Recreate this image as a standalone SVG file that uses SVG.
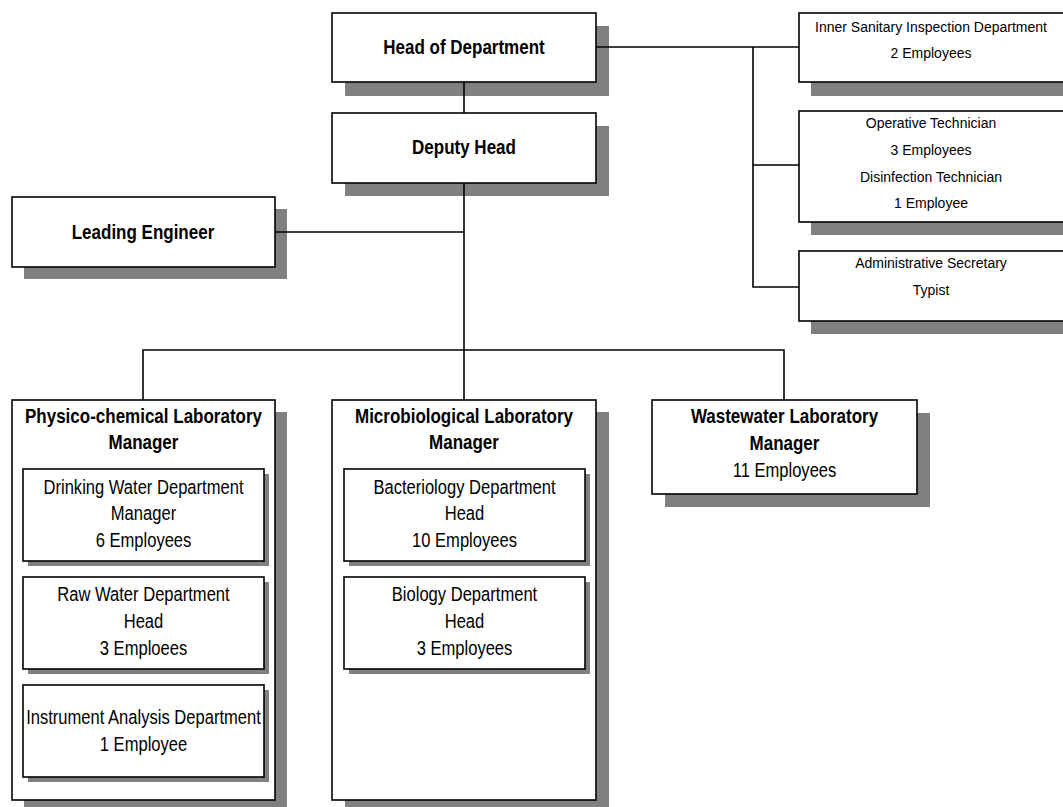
<svg xmlns="http://www.w3.org/2000/svg" width="1063" height="807" viewBox="0 0 1063 807">
<style>
.sh{fill:#808080;stroke:none}
.bx{fill:#fff;stroke:#000;stroke-width:1.6}
.t{font-family:"Liberation Sans",Arial,sans-serif;text-anchor:middle;fill:#000}
.b{font-size:20px;font-weight:bold}
.r{font-size:19.5px}
.s{font-family:"Liberation Sans",Arial,sans-serif;font-size:14px;text-anchor:middle;fill:#000}
.c{stroke:#000;stroke-width:1.6;fill:none}
</style>
<rect width="1063" height="807" fill="#fff"/>
<g id="head">
<rect class="sh" x="345" y="26" width="264" height="70"/>
<rect class="bx" x="332" y="13" width="264" height="69"/>
<text class="t b" transform="translate(464 54) scale(0.85 1)">Head of Department</text>
</g>
<g id="deputy">
<rect class="sh" x="345" y="126" width="264" height="70"/>
<rect class="bx" x="332" y="113" width="264" height="70"/>
<text class="t b" transform="translate(464 154) scale(0.85 1)">Deputy Head</text>
</g>
<g id="leading">
<rect class="sh" x="24" y="209" width="263" height="70"/>
<rect class="bx" x="12" y="197" width="263" height="70"/>
<text class="t b" transform="translate(143 239) scale(0.85 1)">Leading Engineer</text>
</g>
<g id="inner-sanitary">
<rect class="sh" x="811" y="26" width="260" height="70"/>
<rect class="bx" x="799" y="13" width="270" height="69"/>
<text class="s" x="931" y="32">Inner Sanitary Inspection Department</text>
<text class="s" x="931" y="58">2 Employees</text>
</g>
<g id="technicians">
<rect class="sh" x="811" y="124" width="260" height="111"/>
<rect class="bx" x="799" y="111" width="270" height="111"/>
<text class="s" x="931" y="128">Operative Technician</text>
<text class="s" x="931" y="155">3 Employees</text>
<text class="s" x="931" y="182">Disinfection Technician</text>
<text class="s" x="931" y="208">1 Employee</text>
</g>
<g id="admin">
<rect class="sh" x="811" y="264" width="260" height="70"/>
<rect class="bx" x="799" y="251" width="270" height="70"/>
<text class="s" x="931" y="268">Administrative Secretary</text>
<text class="s" x="931" y="295">Typist</text>
</g>
<g id="physico">
<rect class="sh" x="24" y="412" width="263" height="400"/>
<rect class="bx" x="12" y="400" width="263" height="400"/>
<text class="t b" transform="translate(143.5 423) scale(0.85 1)">Physico-chemical Laboratory</text>
<text class="t b" transform="translate(143.5 449) scale(0.85 1)">Manager</text>
</g>
<g id="drinking">
<rect class="sh" x="28" y="474" width="241" height="92"/>
<rect class="bx" x="23" y="469" width="241" height="92"/>
<text class="t r" transform="translate(143.5 494) scale(0.85 1)">Drinking Water Department</text>
<text class="t r" transform="translate(143.5 520) scale(0.85 1)">Manager</text>
<text class="t r" transform="translate(143.5 547) scale(0.85 1)">6 Employees</text>
</g>
<g id="raw">
<rect class="sh" x="28" y="582" width="241" height="92"/>
<rect class="bx" x="23" y="577" width="241" height="92"/>
<text class="t r" transform="translate(143.5 601) scale(0.85 1)">Raw Water Department</text>
<text class="t r" transform="translate(143.5 628) scale(0.85 1)">Head</text>
<text class="t r" transform="translate(143.5 655) scale(0.85 1)">3 Emploees</text>
</g>
<g id="instrument">
<rect class="sh" x="28" y="690" width="241" height="92"/>
<rect class="bx" x="23" y="685" width="241" height="92"/>
<text class="t r" transform="translate(143.5 724) scale(0.85 1)">Instrument Analysis Department</text>
<text class="t r" transform="translate(143.5 751) scale(0.85 1)">1 Employee</text>
</g>
<g id="micro">
<rect class="sh" x="345" y="412" width="264" height="400"/>
<rect class="bx" x="332" y="400" width="264" height="400"/>
<text class="t b" transform="translate(464 423) scale(0.85 1)">Microbiological Laboratory</text>
<text class="t b" transform="translate(464 449) scale(0.85 1)">Manager</text>
</g>
<g id="bacteriology">
<rect class="sh" x="349" y="474" width="241" height="92"/>
<rect class="bx" x="344" y="469" width="241" height="92"/>
<text class="t r" transform="translate(464.5 494) scale(0.85 1)">Bacteriology Department</text>
<text class="t r" transform="translate(464.5 520) scale(0.85 1)">Head</text>
<text class="t r" transform="translate(464.5 547) scale(0.85 1)">10 Employees</text>
</g>
<g id="biology">
<rect class="sh" x="349" y="582" width="241" height="92"/>
<rect class="bx" x="344" y="577" width="241" height="92"/>
<text class="t r" transform="translate(464.5 601) scale(0.85 1)">Biology Department</text>
<text class="t r" transform="translate(464.5 628) scale(0.85 1)">Head</text>
<text class="t r" transform="translate(464.5 655) scale(0.85 1)">3 Employees</text>
</g>
<g id="wastewater">
<rect class="sh" x="665" y="413" width="265" height="94"/>
<rect class="bx" x="652" y="400" width="265" height="94"/>
<text class="t b" transform="translate(784.5 423) scale(0.85 1)">Wastewater Laboratory</text>
<text class="t b" transform="translate(784.5 450) scale(0.85 1)">Manager</text>
<text class="t r" transform="translate(784.5 477) scale(0.85 1)">11 Employees</text>
</g>
<g id="connectors">
<path class="c" d="M464 82V113M464 183V350M275 232H464M143 400V350H784V400M464 350V400M596 47H799M753 47V287H799M753 165H799"/>
</g>
</svg>
